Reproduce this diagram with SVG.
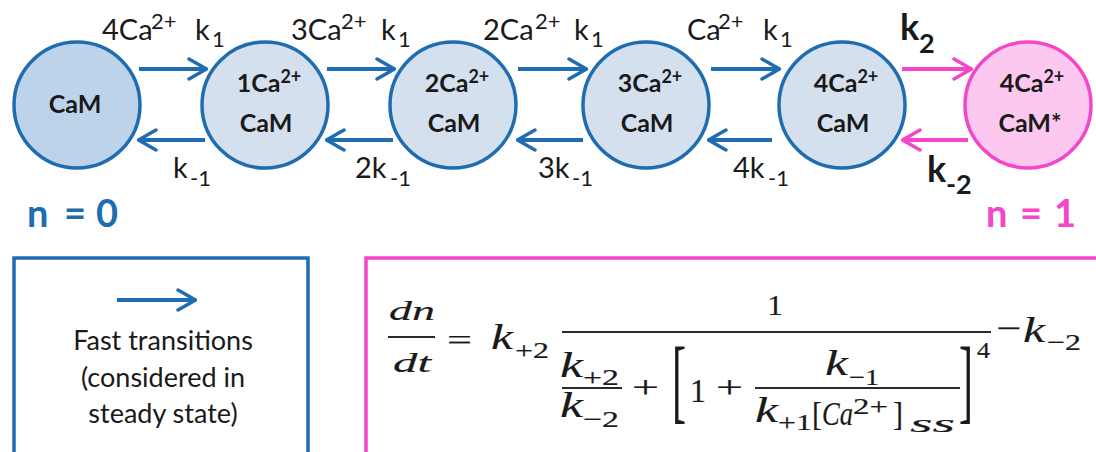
<svg xmlns="http://www.w3.org/2000/svg" width="1096" height="452" viewBox="0 0 1096 452">
  <defs>
    <style>
      .lbl { font-family: Lato, "Open Sans", "Liberation Sans", sans-serif; font-size: 29px; fill: #1a1a1a; }
      .sm { font-size: 22px; }
      .kb { font-family: Lato, "Open Sans", "Liberation Sans", sans-serif; font-weight: bold; fill: #1a1a1a; }
      .node-txt { font-family: Lato, "Open Sans", "Liberation Sans", sans-serif; font-size: 25px; font-weight: bold; fill: #1a1a1a; text-anchor: middle; }
      .nsup { font-size: 18px; }
      .st-blue { fill: #d5e0ef; stroke: #1f6db0; stroke-width: 3.5; }
      .st-blue0 { fill: #bdd3ea; stroke: #1f6db0; stroke-width: 3.5; }
      .st-pink { fill: #fcc8ef; stroke: #f545c8; stroke-width: 3.5; }
      .conn-blue { stroke: #1f6db0; stroke-width: 4; fill: none; marker-end: url(#headBlue); }
      .conn-pink { stroke: #f545c8; stroke-width: 4; fill: none; marker-end: url(#headPink); }
      .nval { font-family: Lato, "Open Sans", "Liberation Sans", sans-serif; font-size: 38px; font-weight: bold; }
      .leg { font-family: Lato, "Open Sans", "Liberation Sans", sans-serif; font-size: 27px; fill: #1a1a1a; text-anchor: middle; }
      .mi { font-family: "Liberation Serif", "DejaVu Serif", serif; font-style: italic; fill: #1a1a1a; stroke: #1a1a1a; stroke-width: 0.15; }
      .mu { font-family: "Liberation Serif", "DejaVu Serif", serif; fill: #1a1a1a; stroke: #1a1a1a; stroke-width: 0.2; }
      .bar { stroke: #2a2a2a; stroke-width: 2.2; }
    </style>
    <marker id="headBlue" viewBox="0 0 21 24" refX="20" refY="12" markerWidth="21" markerHeight="24" markerUnits="userSpaceOnUse" orient="auto">
      <path d="M2,2 L19.5,12 L2,22" fill="none" stroke="#1f6db0" stroke-width="3.5" stroke-linecap="round" stroke-linejoin="round"/>
    </marker>
    <marker id="headPink" viewBox="0 0 21 24" refX="20" refY="12" markerWidth="21" markerHeight="24" markerUnits="userSpaceOnUse" orient="auto">
      <path d="M2,2 L19.5,12 L2,22" fill="none" stroke="#f545c8" stroke-width="3.5" stroke-linecap="round" stroke-linejoin="round"/>
    </marker>
  </defs>

  <rect width="1096" height="452" fill="#ffffff"/>

  <!-- states -->
  <g id="node-cam">
    <circle cx="77" cy="105" r="63" class="st-blue0"/>
    <text x="75" y="113" class="node-txt" font-size="27">CaM</text>
  </g>
  <g id="node-1ca">
    <circle cx="265" cy="105" r="63" class="st-blue"/>
    <text x="269" y="92" class="node-txt">1Ca<tspan class="nsup" dy="-9">2+</tspan></text>
    <text x="266" y="132" class="node-txt">CaM</text>
  </g>
  <g id="node-2ca">
    <circle cx="453" cy="105" r="63" class="st-blue"/>
    <text x="457" y="92" class="node-txt">2Ca<tspan class="nsup" dy="-9">2+</tspan></text>
    <text x="454" y="132" class="node-txt">CaM</text>
  </g>
  <g id="node-3ca">
    <circle cx="646" cy="105" r="63" class="st-blue"/>
    <text x="650" y="92" class="node-txt">3Ca<tspan class="nsup" dy="-9">2+</tspan></text>
    <text x="647" y="132" class="node-txt">CaM</text>
  </g>
  <g id="node-4ca">
    <circle cx="842" cy="105" r="63" class="st-blue"/>
    <text x="846" y="92" class="node-txt">4Ca<tspan class="nsup" dy="-9">2+</tspan></text>
    <text x="843" y="132" class="node-txt">CaM</text>
  </g>
  <g id="node-4ca-active">
    <circle cx="1028" cy="105" r="63" class="st-pink"/>
    <text x="1032" y="92" class="node-txt">4Ca<tspan class="nsup" dy="-9">2+</tspan></text>
    <text x="1030" y="132" class="node-txt">CaM*</text>
  </g>

  <!-- transitions -->
  <g id="connectors">
    <line x1="139" y1="69" x2="207" y2="69" class="conn-blue"/>
    <line x1="327" y1="69" x2="395" y2="69" class="conn-blue"/>
    <line x1="518" y1="69" x2="587" y2="69" class="conn-blue"/>
    <line x1="711" y1="69" x2="780" y2="69" class="conn-blue"/>
    <line x1="902" y1="69" x2="972" y2="69" class="conn-pink"/>
    <line x1="205" y1="140" x2="138" y2="140" class="conn-blue"/>
    <line x1="393" y1="140" x2="326" y2="140" class="conn-blue"/>
    <line x1="583" y1="140" x2="517" y2="140" class="conn-blue"/>
    <line x1="772" y1="140" x2="708" y2="140" class="conn-blue"/>
    <line x1="968" y1="140" x2="902" y2="140" class="conn-pink"/>
  </g>

  <!-- rate labels -->
  <g id="rate-labels">
    <text class="lbl"><tspan x="102" y="40">4Ca</tspan><tspan class="sm" x="151" y="29">2+</tspan><tspan x="195" y="40">k</tspan><tspan class="sm" x="212" y="47">1</tspan></text>
    <text class="lbl"><tspan x="291" y="40">3Ca</tspan><tspan class="sm" x="341" y="29">2+</tspan><tspan x="381" y="40">k</tspan><tspan class="sm" x="398" y="47">1</tspan></text>
    <text class="lbl"><tspan x="483" y="40">2Ca</tspan><tspan class="sm" x="535" y="29">2+</tspan><tspan x="574" y="40">k</tspan><tspan class="sm" x="591" y="47">1</tspan></text>
    <text class="lbl"><tspan x="687" y="40">Ca</tspan><tspan class="sm" x="718" y="29">2+</tspan><tspan x="763" y="40">k</tspan><tspan class="sm" x="780" y="47">1</tspan></text>
    <text class="kb"><tspan x="900" y="40" font-size="36">k</tspan><tspan x="919" y="53" font-size="27">2</tspan></text>
    <text class="lbl"><tspan x="173" y="178">k</tspan><tspan class="sm" x="190" y="186">-1</tspan></text>
    <text class="lbl"><tspan x="355" y="178">2k</tspan><tspan class="sm" x="390" y="186">-1</tspan></text>
    <text class="lbl"><tspan x="538" y="178">3k</tspan><tspan class="sm" x="572" y="186">-1</tspan></text>
    <text class="lbl"><tspan x="733" y="178">4k</tspan><tspan class="sm" x="768" y="186">-1</tspan></text>
    <text class="kb"><tspan x="927" y="182" font-size="36">k</tspan><tspan x="946" y="194" font-size="27">-2</tspan></text>
  </g>

  <!-- state variable -->
  <text class="nval" fill="#1f6db0"><tspan x="27" y="227">n</tspan><tspan x="64" y="227">=</tspan><tspan x="96" y="227">0</tspan></text>
  <text class="nval" fill="#f545c8"><tspan x="986" y="227">n</tspan><tspan x="1020" y="227">=</tspan><tspan x="1054" y="227">1</tspan></text>

  <!-- legend -->
  <g id="legend">
    <rect x="14" y="258" width="294" height="210" fill="none" stroke="#1f6db0" stroke-width="3.5"/>
    <line x1="117" y1="300" x2="196" y2="300" class="conn-blue"/>
    <text x="163" y="350" class="leg">Fast transitions</text>
    <text x="163" y="387" class="leg">(considered in</text>
    <text x="163" y="423" class="leg">steady state)</text>
  </g>

  <!-- rate equation -->
  <g id="equation">
    <rect x="366" y="258" width="740" height="210" fill="none" stroke="#f545c8" stroke-width="3.5"/>
    <!-- dn/dt -->
    <text x="389" y="320" class="mi" font-size="28" textLength="46" lengthAdjust="spacingAndGlyphs">dn</text>
    <line x1="388" y1="337" x2="435" y2="337" class="bar"/>
    <text x="393" y="372" class="mi" font-size="28" textLength="38" lengthAdjust="spacingAndGlyphs">dt</text>
    <text x="447" y="350" class="mu" font-size="30" textLength="25" lengthAdjust="spacingAndGlyphs">=</text>
    <!-- k+2 -->
    <text x="491" y="349" class="mi" font-size="36" textLength="22" lengthAdjust="spacingAndGlyphs">k</text>
    <text x="515" y="358" class="mu" font-size="23" textLength="34" lengthAdjust="spacingAndGlyphs">+2</text>
    <!-- main fraction -->
    <text x="767" y="315" class="mu" font-size="30" textLength="16" lengthAdjust="spacingAndGlyphs">1</text>
    <line x1="562" y1="332" x2="991" y2="332" class="bar"/>
    <!-- k+2 / k-2 -->
    <text x="560" y="377" class="mi" font-size="36" textLength="23" lengthAdjust="spacingAndGlyphs">k</text>
    <text x="583" y="385" class="mu" font-size="23" textLength="36" lengthAdjust="spacingAndGlyphs">+2</text>
    <line x1="562" y1="388" x2="622" y2="388" class="bar"/>
    <text x="560" y="417" class="mi" font-size="36" textLength="23" lengthAdjust="spacingAndGlyphs">k</text>
    <text x="583" y="427" class="mu" font-size="23" textLength="36" lengthAdjust="spacingAndGlyphs">−2</text>
    <text x="632" y="398" class="mu" font-size="32" textLength="27" lengthAdjust="spacingAndGlyphs">+</text>
    <!-- bracketed term -->
    <text x="672" y="412" class="mu" font-size="94" textLength="14" lengthAdjust="spacingAndGlyphs" stroke-width="0">[</text>
    <text x="690" y="402" class="mu" font-size="34" textLength="16" lengthAdjust="spacingAndGlyphs">1</text>
    <text x="716" y="398" class="mu" font-size="32" textLength="27" lengthAdjust="spacingAndGlyphs">+</text>
    <text x="825" y="375" class="mi" font-size="36" textLength="23" lengthAdjust="spacingAndGlyphs">k</text>
    <text x="849" y="385" class="mu" font-size="23" textLength="30" lengthAdjust="spacingAndGlyphs">−1</text>
    <line x1="755" y1="388" x2="960" y2="388" class="bar"/>
    <text x="755" y="422" class="mi" font-size="36" textLength="23" lengthAdjust="spacingAndGlyphs">k</text>
    <text x="778" y="430" class="mu" font-size="23" textLength="34" lengthAdjust="spacingAndGlyphs">+1</text>
    <text x="812" y="425" class="mu" font-size="33" textLength="10" lengthAdjust="spacingAndGlyphs">[</text>
    <text x="822" y="425" class="mi" font-size="33" textLength="31" lengthAdjust="spacingAndGlyphs">Ca</text>
    <text x="853" y="414" class="mu" font-size="23" textLength="35" lengthAdjust="spacingAndGlyphs">2+</text>
    <text x="893" y="425" class="mu" font-size="33" textLength="10" lengthAdjust="spacingAndGlyphs">]</text>
    <text x="910" y="432" class="mi" font-size="26" textLength="45" lengthAdjust="spacingAndGlyphs">ss</text>
    <text x="959" y="412" class="mu" font-size="94" textLength="14" lengthAdjust="spacingAndGlyphs" stroke-width="0">]</text>
    <text x="977" y="358" class="mu" font-size="23" textLength="13" lengthAdjust="spacingAndGlyphs">4</text>
    <!-- -k-2 -->
    <text x="996" y="339" class="mu" font-size="32" textLength="25" lengthAdjust="spacingAndGlyphs">−</text>
    <text x="1023" y="342" class="mi" font-size="36" textLength="22" lengthAdjust="spacingAndGlyphs">k</text>
    <text x="1047" y="350" class="mu" font-size="23" textLength="34" lengthAdjust="spacingAndGlyphs">−2</text>
  </g>
</svg>
